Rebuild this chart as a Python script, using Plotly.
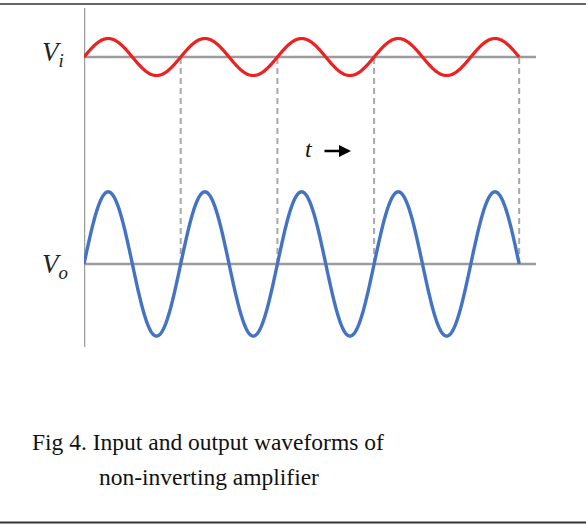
import numpy as np
import plotly.graph_objects as go

# ---- data ----
CYCLES = 4.5                 # number of periods drawn
AMP_IN = 1.0                 # input amplitude (arbitrary units)
GAIN = 3.9                   # non-inverting amplifier gain
VI_OFFSET = 11.19            # vertical placement of the input trace baseline
DASH_TIMES = [1, 2, 3, 4.5]  # guide lines (in periods)
X_MAX = 4.674                # axis length in periods
Y_MIN, Y_MAX = -4.49, 13.84
LABEL_VI = "V<sub>i</sub>"
LABEL_VO = "V<sub>o</sub>"
CAPTION_1 = "Fig 4. Input and output waveforms of"
CAPTION_2 = "non-inverting amplifier"

t = np.linspace(0, CYCLES, 901)
v_in = AMP_IN * np.sin(2 * np.pi * t)
v_out = GAIN * v_in

RED = "#ee2020"
BLUE = "#4472c4"
GRAY = "#9c9c9c"
SERIF = "Liberation Serif, Times New Roman, serif"

fig = go.Figure()
fig.add_trace(go.Scatter(x=t, y=v_in + VI_OFFSET, mode="lines",
                         line=dict(color=RED, width=3.2, simplify=False), hoverinfo="skip"))
fig.add_trace(go.Scatter(x=t, y=v_out, mode="lines",
                         line=dict(color=BLUE, width=3.4, simplify=False), hoverinfo="skip"))

shapes = []
# dashed guides
for d in DASH_TIMES:
    shapes.append(dict(type="line", xref="x", yref="y", x0=d, x1=d, y0=0, y1=VI_OFFSET,
                       line=dict(color="#a8a8a8", width=2, dash="6px,4px"), layer="below"))
# baselines
for yb in [0, VI_OFFSET]:
    shapes.append(dict(type="line", xref="paper", yref="y", x0=0, x1=1, y0=yb, y1=yb,
                       line=dict(color=GRAY, width=2.5), layer="below"))
# vertical axis
shapes.append(dict(type="line", xref="x", yref="paper", x0=0, x1=0, y0=0, y1=1,
                   line=dict(color=GRAY, width=2.5), layer="below"))
# frame lines top and bottom
L, W, T, H = 84, 452, 8, 339
def px_x(p):
    return (p - L) / W
def px_y(p):
    return (T + H - p) / H
for yy, wdt in [(4, 1.6), (522.5, 2.2)]:
    shapes.append(dict(type="line", xref="paper", yref="paper", x0=px_x(0), x1=px_x(586),
                       y0=px_y(yy), y1=px_y(yy), line=dict(color="#333333", width=wdt)))

annotations = [
    dict(x=0, y=VI_OFFSET, xref="x", yref="y", text="<i>" + LABEL_VI + "</i>", showarrow=False,
         xanchor="right", yanchor="middle", xshift=-18, yshift=3,
         font=dict(family=SERIF, size=27, color="#222222")),
    dict(x=0, y=0, xref="x", yref="y", text="<i>" + LABEL_VO + "</i>", showarrow=False,
         xanchor="right", yanchor="middle", xshift=-14, yshift=-2,
         font=dict(family=SERIF, size=27, color="#222222")),
    dict(x=px_x(309), y=px_y(149), xref="paper", yref="paper", text="<i>t</i>", showarrow=False,
         xanchor="center", yanchor="middle", font=dict(family=SERIF, size=24, color="#111111")),
    dict(x=px_x(351), y=px_y(151), xref="paper", yref="paper", text="", showarrow=True,
         ax=-28, ay=0, arrowhead=2, arrowsize=1, arrowwidth=2.4, arrowcolor="#000000"),
    dict(x=px_x(30), y=px_y(442), xref="paper", yref="paper", text=CAPTION_1, showarrow=False,
         xanchor="left", yanchor="middle", font=dict(family=SERIF, size=23.5, color="#111111")),
    dict(x=px_x(97), y=px_y(477), xref="paper", yref="paper", text=CAPTION_2, showarrow=False,
         xanchor="left", yanchor="middle", font=dict(family=SERIF, size=23.5, color="#111111")),
]

fig.update_layout(
    width=586, height=525,
    margin=dict(l=L, r=586 - L - W, t=T, b=525 - T - H),
    paper_bgcolor="white", plot_bgcolor="white",
    showlegend=False,
    xaxis=dict(range=[0, X_MAX], visible=False, fixedrange=True),
    yaxis=dict(range=[Y_MIN, Y_MAX], visible=False, fixedrange=True),
    shapes=shapes, annotations=annotations,
)
fig.write_html("out.html", config={"displayModeBar": False},
               post_script="document.body.style.margin='0';document.body.style.overflow='hidden';")
